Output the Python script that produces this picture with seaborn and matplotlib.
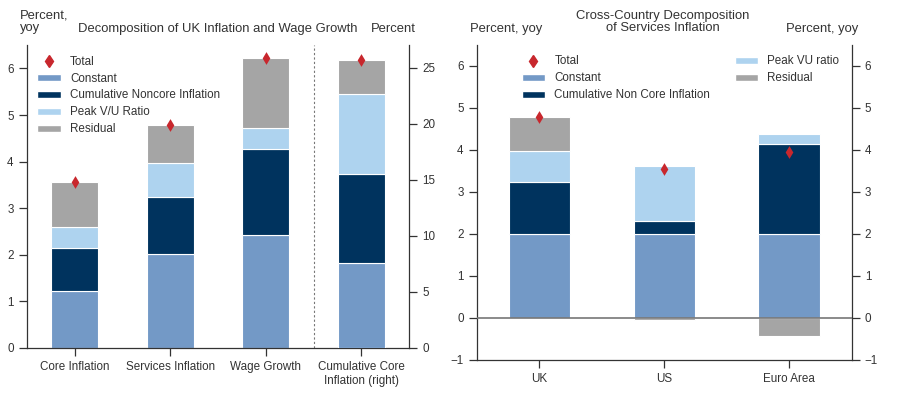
import numpy as np
import pandas as pd
import matplotlib
matplotlib.use('Agg')
import matplotlib.pyplot as plt
from matplotlib.patches import Patch
from matplotlib.lines import Line2D
import seaborn as sns

# UK decomposition (left panel); last category is read on the right axis
uk_cats = ["Core Inflation", "Services Inflation", "Wage Growth", "Cumulative Core\nInflation (right)"]
uk_constant = [1.23, 2.01, 2.42, 7.60]
uk_noncore = [0.91, 1.23, 1.86, 7.95]
uk_vu = [0.45, 0.73, 0.44, 7.10]
uk_resid = [0.97, 0.81, 1.51, 3.05]
uk_total = [3.56, 4.78, 6.23, 25.70]

# cross-country services inflation (right panel)
cc_cats = ["UK", "US", "Euro Area"]
cc_constant = [2.00, 2.00, 2.00]
cc_noncore = [1.24, 0.31, 2.15]
cc_vu = [0.73, 1.30, 0.24]
cc_resid = [0.82, -0.04, -0.42]
cc_total = [4.79, 3.55, 3.94]

# Colors
C_CONST = '#7399C6'
C_NONCORE = '#00335E'
C_VU = '#AED3EF'
C_RESID = '#A5A5A5'
C_TOTAL = '#C8272D'
TXT = '#333333'

sns.set_style("ticks")
plt.rcParams['font.family'] = ['Liberation Sans', 'DejaVu Sans']
plt.rcParams['axes.edgecolor'] = TXT
plt.rcParams['xtick.color'] = TXT
plt.rcParams['ytick.color'] = TXT
plt.rcParams['text.color'] = TXT
plt.rcParams['axes.linewidth'] = 0.9

MS = 6.5  # diamond size


def stack(ax, cats, order, layers, width=0.49):
    # layers: list of (values, color); negative values hang below zero
    pos_base = np.zeros(len(cats))
    for vals, col in layers:
        vals = np.asarray(vals, dtype=float)
        bottom = np.where(vals >= 0, pos_base, 0.0)
        sns.barplot(x=cats, y=vals, order=order, color=col, width=width,
                    bottom=bottom, edgecolor='white', linewidth=0.8,
                    saturation=1, ax=ax, errorbar=None)
        pos_base = pos_base + np.clip(vals, 0, None)


def legend_handles():
    return [Line2D([], [], marker='d', color=C_TOTAL, ls='none', markersize=MS),
            Patch(facecolor=C_CONST, edgecolor='white'),
            Patch(facecolor=C_NONCORE, edgecolor='white'),
            Patch(facecolor=C_VU, edgecolor='white'),
            Patch(facecolor=C_RESID, edgecolor='white')]


fig = plt.figure(figsize=(9.03, 4.07), dpi=100)
ax1 = fig.add_axes([0.0296, 0.145, 0.4236, 0.744])
ax3 = fig.add_axes([0.528, 0.1155, 0.415, 0.774])

# ---- left panel
left_cats = uk_cats[:3]
stack(ax1, left_cats, uk_cats,
      [(uk_constant[:3], C_CONST), (uk_noncore[:3], C_NONCORE),
       (uk_vu[:3], C_VU), (uk_resid[:3], C_RESID)])
sns.stripplot(x=left_cats, y=uk_total[:3], order=uk_cats, jitter=False,
              marker='d', size=MS, color=C_TOTAL, linewidth=0, ax=ax1, zorder=5)

ax2 = ax1.twinx()
right_cat = uk_cats[3:]
stack(ax2, right_cat, uk_cats,
      [(uk_constant[3:], C_CONST), (uk_noncore[3:], C_NONCORE),
       (uk_vu[3:], C_VU), (uk_resid[3:], C_RESID)])
sns.stripplot(x=right_cat, y=uk_total[3:], order=uk_cats, jitter=False,
              marker='d', size=MS, color=C_TOTAL, linewidth=0, ax=ax2, zorder=5)

ax1.set_xlim(-0.5, 3.5)
ax1.set_ylim(0, 6.5)
ax2.set_ylim(0, 27)
ax1.set_yticks(range(0, 7))
ax2.set_yticks(range(0, 26, 5))
ax1.set_xticks(range(4))
ax1.set_xticklabels(uk_cats)
ax1.axvline(2.5, color='#777777', ls=(0, (2, 2)), lw=0.8)
for a in (ax1, ax2):
    a.set_xlabel('')
    a.set_ylabel('')
    a.spines['top'].set_visible(False)
    a.tick_params(labelsize=8.4, length=6, width=0.9)
ax1.spines['right'].set_visible(False)
ax2.spines['left'].set_visible(False)
ax2.spines['bottom'].set_visible(False)

ax2.legend(legend_handles(),
           ['Total', 'Constant', 'Cumulative Noncore Inflation', 'Peak V/U Ratio', 'Residual'],
           loc='upper left', frameon=False, fontsize=8.4, handlelength=2.0,
           handleheight=0.55, labelspacing=0.42)

# ---- right panel
stack(ax3, cc_cats, cc_cats,
      [(cc_constant, C_CONST), (cc_noncore, C_NONCORE),
       (cc_vu, C_VU), (cc_resid, C_RESID)])
sns.stripplot(x=cc_cats, y=cc_total, order=cc_cats, jitter=False,
              marker='d', size=MS, color=C_TOTAL, linewidth=0, ax=ax3, zorder=5)
ax3.axhline(0, color='#777777', lw=1.2, zorder=4)
ax3.set_xlim(-0.5, 2.5)
ax3.set_ylim(-1, 6.5)
ax3.set_yticks(range(-1, 7))
ax3.set_xlabel('')
ax3.set_ylabel('')
ax3.spines['top'].set_visible(False)
ax3.tick_params(labelsize=8.4, length=6, width=0.9, right=True, labelright=True)

ax3.legend(legend_handles(),
           ['Total', 'Constant', 'Cumulative Non Core Inflation', 'Peak VU ratio', 'Residual'],
           loc='upper left', bbox_to_anchor=(0.092, 1.0), ncol=2, frameon=False,
           fontsize=8.4, handlelength=2.0, handleheight=0.55, labelspacing=0.42,
           columnspacing=2.1)

# ---- titles / axis units
fs = 9.4
fig.text(0.022, 0.946, 'Percent,\nyoy', ha='left', va='center', fontsize=fs, linespacing=1.1)
fig.text(0.2414, 0.929, 'Decomposition of UK Inflation and Wage Growth', ha='center', va='center', fontsize=fs)
fig.text(0.436, 0.929, 'Percent', ha='center', va='center', fontsize=fs)
fig.text(0.560, 0.929, 'Percent, yoy', ha='center', va='center', fontsize=fs)
fig.text(0.734, 0.946, 'Cross-Country Decomposition\nof Services Inflation', ha='center', va='center',
         fontsize=fs, linespacing=1.1)
fig.text(0.910, 0.929, 'Percent, yoy', ha='center', va='center', fontsize=fs)

fig.savefig('out.png', dpi=100)
